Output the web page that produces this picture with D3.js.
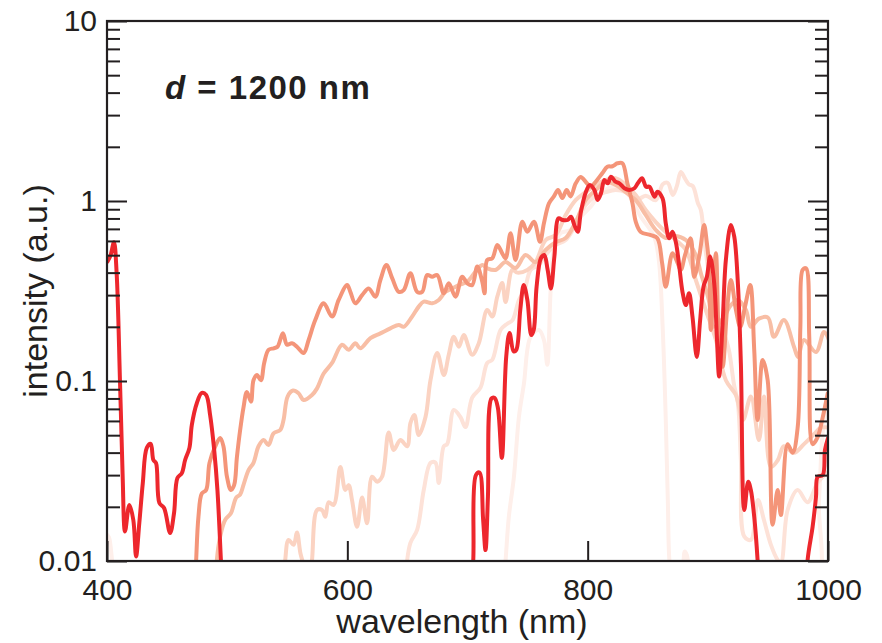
<!DOCTYPE html>
<html>
<head>
<meta charset="utf-8">
<script src="https://cdn.jsdelivr.net/npm/d3@7"></script>
<style>
  html, body { margin: 0; padding: 0; background: #ffffff; }
  svg { display: block; }
  text { font-family: "Liberation Sans", Arial, Helvetica, sans-serif; fill: #231F20; }
</style>
</head>
<body>
<div id="chart"></div>
<script>
// ---- data: [wavelength (nm), intensity (a.u.)] ----
const seriesA = [[400,0.014],[401.7,0.0135],[404.2,0.0101],[405.8,0.0083],[407,0.006],[729,0.006],[731.7,0.0101],[734.4,0.0176],[738.6,0.0292],[742.8,0.0632],[746.9,0.0959],[752.5,0.176],[759.4,0.192],[763.6,0.169],[766.4,0.123],[769.2,0.32],[771.9,0.534],[777.5,0.663],[785.8,0.69],[794.2,0.818],[802.5,0.93],[810.8,1.1],[821.9,1.2],[833.1,1.1],[844.2,0.818],[855.3,0.634],[859.2,0.47],[862.5,0.192],[865,0.0607],[866.7,0.0218],[868.3,0.0096],[870.8,0.0079],[878.3,0.0089],[880.8,0.0113],[882.5,0.0108],[885,0.0084],[887.5,0.007],[987.5,0.007],[992.5,0.0218],[995.8,0.0534],[1000,0.0784]];

const seriesB = [[648,0.006],[649.8,0.0101],[652.5,0.0126],[658.1,0.0149],[663.6,0.0248],[669.2,0.0351],[673.3,0.0352],[676.1,0.0271],[680.3,0.0434],[683.1,0.0446],[688.6,0.069],[694.2,0.0629],[698.3,0.0555],[703.9,0.0808],[710.8,0.0918],[716.4,0.126],[720.6,0.131],[727.5,0.192],[733.1,0.208],[737.5,0.218],[742.8,0.282],[747.5,0.32],[752.5,0.414],[759.2,0.441],[765,0.501],[773.3,0.57],[781.7,0.607],[790,0.736],[798.3,0.95],[806.7,1.07],[815,1.12],[823.3,1.15],[831.7,1.12],[840,1.01],[848.3,1.07],[856.7,1.01],[862.5,1.24],[866.7,1.26],[870.8,1.08],[874.2,1.21],[877.5,1.45],[880.8,1.34],[884.2,1.24],[887.5,1.21],[891.7,0.975],[894.2,0.891],[897.5,0.57],[900.8,0.403],[904.2,0.312],[908.3,0.227],[912.5,0.192],[917.5,0.149],[921.7,0.0962],[925,0.0754],[927.5,0.0364],[930.3,0.0137],[935.8,0.0131],[941.7,0.0218],[946.7,0.0169],[952.5,0.0123],[958.3,0.0101],[960.8,0.0098],[966.4,0.0192],[974.7,0.0248],[983,0.0212],[991.4,0.0272],[999.8,0.0311]];

const seriesC = [[546,0.006],[548.3,0.0101],[551.1,0.0131],[555.3,0.0123],[558.1,0.0144],[561,0.011],[563.6,0.0095],[566,0.0075],[568.3,0.0075],[570.6,0.0101],[574.8,0.0192],[578.9,0.0192],[581.7,0.0176],[584.4,0.0212],[588.6,0.0205],[594.2,0.0333],[598.3,0.0248],[601.1,0.0264],[603.9,0.0218],[608.1,0.0155],[612.3,0.0225],[616.4,0.0162],[620.6,0.0294],[624.8,0.0276],[628.9,0.0294],[634.4,0.0518],[638.6,0.0414],[644.2,0.047],[649.8,0.0434],[652.5,0.0584],[655.8,0.0647],[659.4,0.0501],[665,0.0629],[669.2,0.101],[674.8,0.143],[680.3,0.108],[684.4,0.14],[688.6,0.176],[692.8,0.155],[696.9,0.18],[703.9,0.14],[709.4,0.162],[716.4,0.248],[720.6,0.228],[724.8,0.294],[728.9,0.35],[731.7,0.275],[737.3,0.414],[741.4,0.4],[749.8,0.414],[756.7,0.458],[765,0.607],[773.3,0.647],[781.7,0.836],[790,1.01],[798.3,1.12],[806.7,1.23],[815,1.31],[823.3,1.34],[831.7,1.23],[840,1.08],[848.3,0.891],[856.7,0.764],[865,0.673],[873.3,0.607],[881.7,0.534],[890,0.364],[898.3,0.248],[906.7,0.169],[915,0.101],[923.3,0.0836],[929.2,0.0607],[935.8,0.082],[942.5,0.047],[946.7,0.082],[952.5,0.0333],[958.3,0.0364],[963.3,0.0434],[971.7,0.0399],[980,0.0446],[988.3,0.0506],[994.2,0.055],[1000.8,0.055]];

const seriesD = [[490,0.006],[491.4,0.0101],[494.2,0.0137],[498.3,0.0169],[503.1,0.0184],[507.5,0.0225],[510.8,0.0234],[513.6,0.0265],[517.8,0.032],[521.9,0.0351],[526.1,0.0434],[530.3,0.047],[534.4,0.0441],[538.6,0.0512],[544.2,0.0534],[546.9,0.0607],[550.3,0.082],[554.8,0.0885],[559.4,0.0855],[563.6,0.0784],[570.6,0.0836],[574.8,0.091],[580.3,0.11],[587.3,0.126],[595.6,0.159],[601.1,0.149],[606.7,0.162],[610.8,0.152],[619.2,0.173],[627.5,0.184],[635.8,0.196],[642.8,0.205],[646.9,0.2],[653.9,0.228],[659.4,0.259],[663.6,0.276],[670.6,0.27],[676.1,0.282],[681.7,0.313],[687.3,0.327],[692.8,0.341],[699.8,0.356],[706.7,0.405],[712.3,0.441],[716.4,0.423],[723.3,0.414],[731.7,0.458],[740,0.424],[748.3,0.501],[756.7,0.458],[765,0.534],[773.3,0.59],[781.7,0.623],[790,0.764],[798.3,1.01],[806.7,1.15],[815,1.27],[823.3,1.23],[831.7,1.12],[840,1.01],[848.3,0.836],[856.7,0.69],[865,0.623],[873.3,0.64],[881.7,0.607],[890,0.501],[894.2,0.397],[900.8,0.282],[905,0.2],[912.5,0.222],[919.2,0.264],[925,0.282],[931.7,0.248],[935.8,0.2],[942.5,0.222],[950,0.225],[955,0.176],[963.3,0.218],[971.7,0.155],[975,0.136],[980,0.169],[990,0.145],[996.7,0.187],[1000.8,0.169]];

const seriesE = [[473,0.006],[474.2,0.0101],[476.1,0.0176],[478.9,0.0237],[482.5,0.0248],[485.3,0.0351],[490,0.0432],[494.2,0.0483],[496.9,0.0434],[499.8,0.0294],[503.1,0.0248],[505.8,0.0264],[508.1,0.0377],[510.8,0.0534],[513.6,0.0714],[516.4,0.087],[519.8,0.0768],[521.9,0.101],[524.8,0.108],[528.1,0.101],[530.8,0.126],[534.4,0.149],[538.6,0.152],[541.9,0.155],[546.4,0.184],[549.8,0.159],[553.9,0.162],[558.1,0.155],[563.6,0.143],[567.8,0.169],[573.3,0.218],[580.3,0.27],[587.3,0.228],[592.8,0.282],[599.8,0.341],[602.5,0.313],[606.7,0.27],[612.3,0.3],[617.8,0.327],[623.3,0.294],[627.5,0.364],[632.5,0.441],[637.3,0.373],[642.8,0.313],[646.9,0.32],[652.5,0.397],[658.1,0.313],[662.3,0.313],[666.4,0.388],[670.6,0.38],[674.8,0.388],[680.3,0.307],[684.4,0.349],[690,0.294],[695.6,0.38],[699.8,0.349],[703.9,0.341],[708.1,0.432],[712.3,0.356],[714.2,0.307],[716.4,0.47],[720.6,0.48],[724.8,0.57],[728.9,0.512],[731.7,0.48],[735.8,0.661],[740,0.47],[745.6,0.767],[749.8,0.675],[755.3,0.767],[760.3,0.594],[763.6,0.752],[767.8,0.971],[771.9,1.06],[775.3,1.15],[778.9,1.04],[782.5,1.15],[785.8,1.06],[790,1.25],[794.2,1.36],[798.3,1.28],[802.5,1.2],[806.7,1.28],[812.3,1.43],[816.4,1.55],[820.6,1.56],[824.8,1.62],[828.9,1.62],[833.1,1.25],[837.3,0.971],[840,0.767],[844.2,0.673],[852.5,0.647],[858,0.621],[862,0.45],[865,0.334],[870.6,0.512],[874.7,0.455],[877.5,0.414],[881,0.5],[885.8,0.62],[888.6,0.379],[893,0.5],[896.9,0.736],[899,0.6],[901.1,0.432],[902.5,0.192],[906.7,0.512],[909.4,0.162],[912.3,0.12],[916,0.25],[919.2,0.364],[923.3,0.25],[927,0.2],[931,0.26],[935.3,0.341],[938.6,0.149],[941.4,0.0607],[945.6,0.131],[949.8,0.101],[953.9,0.0159],[958.1,0.0248],[960.8,0.018],[966.4,0.0446],[970.6,0.0399],[974.8,0.0555],[977,0.2],[978.9,0.414],[981.7,0.423],[984.4,0.176],[987.2,0.0446],[991.4,0.0488],[995.6,0.0628],[999.8,0.0855]];

const seriesRed = [[400.3,0.46],[403,0.5],[405.8,0.59],[408,0.4],[410.8,0.1],[413,0.03],[415,0.0146],[418.6,0.0205],[421.9,0.0169],[424.2,0.0106],[426.9,0.0163],[429.8,0.0271],[433.1,0.0425],[436.4,0.0447],[438.6,0.0364],[440.8,0.035],[443.6,0.021],[447.5,0.0197],[452.5,0.0143],[455.8,0.0185],[458.6,0.0289],[462.3,0.0308],[465,0.0364],[468.6,0.0425],[470.6,0.057],[474.8,0.0755],[478.9,0.0858],[482.5,0.0836],[485.8,0.0647],[489.2,0.0414],[491.9,0.0248],[494.8,0.0101],[497,0.005],[702,0.005],[704.8,0.0101],[707,0.03],[710,0.031],[713,0.017],[715,0.0115],[717,0.0227],[720,0.08],[722.6,0.0805],[725.3,0.0708],[728.6,0.0374],[732.2,0.136],[735,0.185],[738.4,0.146],[740.6,0.149],[743.9,0.248],[746.8,0.341],[749.8,0.282],[753.1,0.18],[755.1,0.192],[757.5,0.334],[761.1,0.481],[763.9,0.501],[766.7,0.414],[769.4,0.327],[772.3,0.491],[775.8,0.802],[779.2,0.784],[783.3,0.784],[786.1,0.818],[788.9,0.736],[791.7,0.675],[794.4,0.873],[798.6,1.127],[801.9,1.227],[805.6,1.151],[808.3,1.013],[811.1,1.104],[813.9,1.309],[816.7,1.254],[819.4,1.365],[823.1,1.28],[826.4,1.254],[830.6,1.177],[834.8,1.151],[838.9,1.177],[841.7,1.254],[845.3,1.337],[848.6,1.2],[851.4,1.2],[855.6,1.057],[858.1,1.127],[862.3,1.035],[865,0.752],[867.8,0.621],[870.6,0.675],[873.3,0.594],[876.1,0.441],[878.9,0.313],[881.7,0.264],[884.4,0.307],[887.2,0.228],[890.8,0.136],[893.6,0.218],[896.4,0.334],[899.2,0.379],[901.9,0.491],[905.3,0.349],[907.5,0.176],[909.4,0.106],[912.3,0.209],[915,0.47],[919.2,0.736],[922,0.634],[925,0.349],[927.5,0.125],[930.3,0.0192],[933.6,0.0276],[935.8,0.0248],[938.6,0.0176],[941.4,0.0101],[943.5,0.005],[981,0.005],[983,0.0101],[987.2,0.0155],[990,0.0227],[991.4,0.0294],[995.6,0.03],[997.5,0.0414],[1000,0.0481]];

const seriesList = [seriesA, seriesB, seriesC, seriesD, seriesE, seriesRed];
const seriesColors = ["#FEEFEA", "#FDE2D8", "#FBD3C2", "#F8BEA5", "#F49579", "#ED272D"];

const xTicks = [400, 600, 800, 1000];
const yMajorTicks = [0.01, 0.1, 1, 10];
const yTickLabels = ["0.01", "0.1", "1", "10"];
const xLabel = "wavelength (nm)";
const yLabel = "intensity (a.u.)";
const annotationVar = "d";
const annotationRest = " = 1200 nm";

(function () {
  // ---- layout ----
  const W = 882, H = 643;
  const pL = 107, pR = 828, pT = 21, pB = 561;
  const ink = "#231F20";

  const svg = d3.select("#chart").append("svg").attr("width", W).attr("height", H);

  const x = d3.scaleLinear().domain([400, 1000]).range([pL, pR]);
  const y = d3.scaleLog().domain([0.01, 10]).range([pB, pT]);

  const yMinor = [];
  [0.01, 0.1, 1].forEach(d => { for (let k = 2; k <= 9; k++) yMinor.push(+(d * k).toPrecision(3)); });

  svg.append("defs").append("clipPath").attr("id", "plotclip")
    .append("rect").attr("x", pL).attr("y", pT).attr("width", pR - pL).attr("height", pB - pT);

  // data lines
  const line = d3.line().x(d => x(d[0])).y(d => y(d[1])).curve(d3.curveCatmullRom.alpha(0.5));
  const g = svg.append("g").attr("clip-path", "url(#plotclip)");
  seriesList.forEach((s, i) => {
    g.append("path").datum(s)
      .attr("d", line)
      .attr("fill", "none")
      .attr("stroke", seriesColors[i])
      .attr("stroke-width", 4)
      .attr("stroke-linejoin", "round")
      .attr("stroke-linecap", "round");
  });

  function styleAxis(sel) {
    sel.select(".domain").remove();
    sel.selectAll(".tick line").attr("stroke", ink).attr("stroke-width", 2);
    sel.selectAll(".tick text").attr("fill", ink).style("font-size", "30px")
       .style("font-family", "'Liberation Sans', Arial, Helvetica, sans-serif");
  }

  svg.append("g").attr("transform", `translate(${pL},0)`)
    .call(d3.axisLeft(y).tickValues(yMajorTicks).tickSize(-20).tickPadding(10)
      .tickFormat((d, i) => yTickLabels[i]))
    .call(styleAxis);
  svg.append("g").attr("transform", `translate(${pL},0)`)
    .call(d3.axisLeft(y).tickValues(yMinor).tickSize(-13).tickFormat(""))
    .call(styleAxis);
  svg.append("g").attr("transform", `translate(${pR},0)`)
    .call(d3.axisRight(y).tickValues(yMajorTicks).tickSize(-20).tickFormat(""))
    .call(styleAxis);
  svg.append("g").attr("transform", `translate(${pR},0)`)
    .call(d3.axisRight(y).tickValues(yMinor).tickSize(-13).tickFormat(""))
    .call(styleAxis);
  svg.append("g").attr("transform", `translate(0,${pB})`)
    .call(d3.axisBottom(x).tickValues(xTicks).tickSize(-20).tickPadding(18).tickFormat(d3.format("d")))
    .call(styleAxis);

  // frame
  svg.append("rect").attr("x", pL).attr("y", pT)
    .attr("width", pR - pL).attr("height", pB - pT)
    .attr("fill", "none").attr("stroke", ink).attr("stroke-width", 2.2);

  // axis titles
  svg.append("text").attr("x", 462).attr("y", 633).attr("text-anchor", "middle")
    .style("font-size", "34px").text(xLabel);
  svg.append("text").attr("transform", "translate(47,291) rotate(-90)").attr("text-anchor", "middle")
    .style("font-size", "34px").text(yLabel);

  // annotation
  const ann = svg.append("text").attr("x", 165).attr("y", 99)
    .style("font-size", "33px").style("font-weight", "bold").style("letter-spacing", "1.5px");
  ann.append("tspan").style("font-style", "italic").text(annotationVar);
  ann.append("tspan").text(annotationRest);
})();
</script>
</body>
</html>
